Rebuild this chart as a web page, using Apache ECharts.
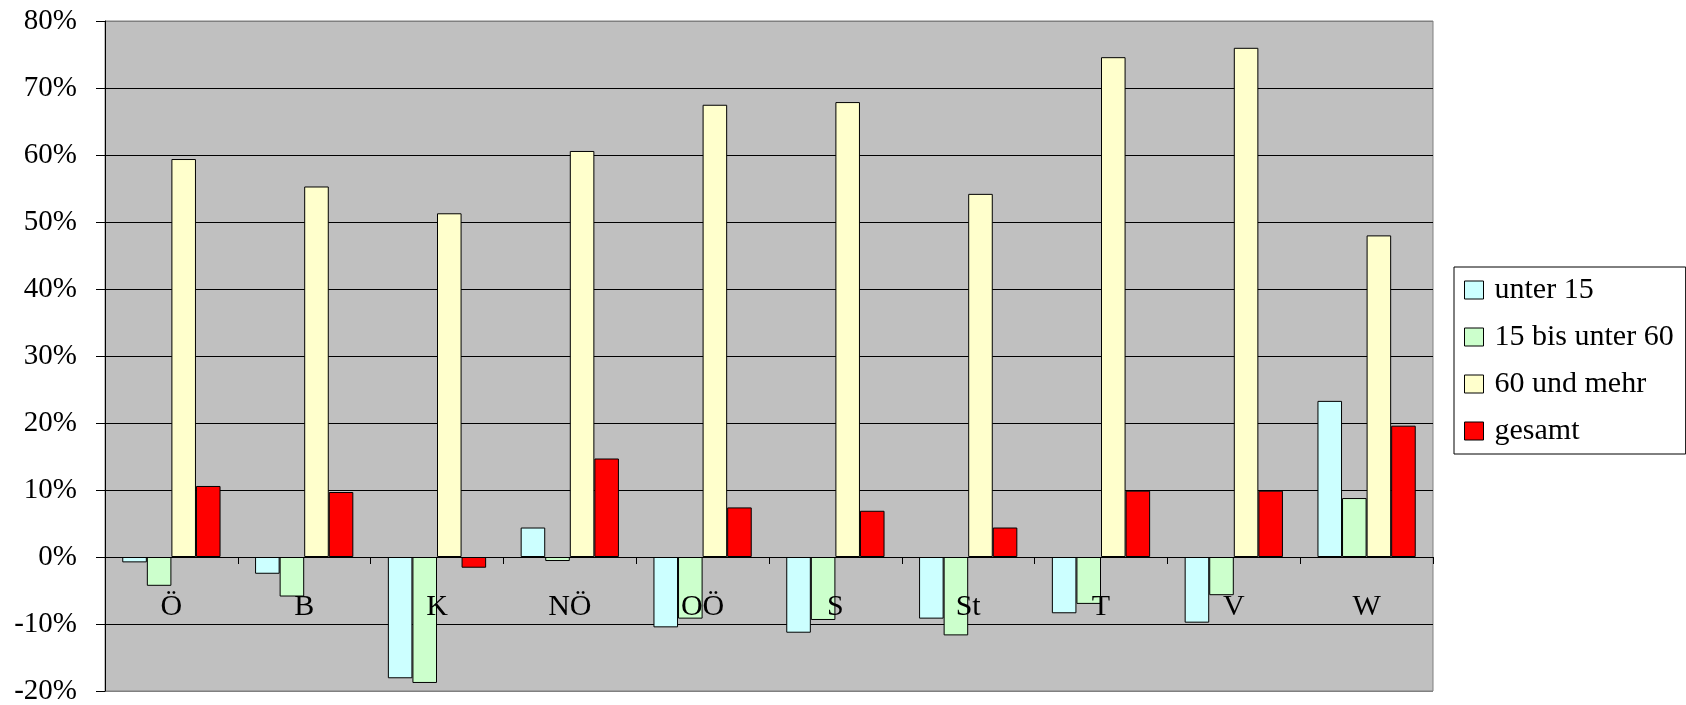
<!DOCTYPE html>
<html>
<head>
<meta charset="utf-8">
<script src="https://cdn.jsdelivr.net/npm/echarts@6/dist/echarts.min.js"></script>
<style>
html,body{margin:0;padding:0;background:#fff;}
#chart{width:1686px;height:705px;}
</style>
</head>
<body>
<div id="chart"></div>
<script>
var categories = ['Ö', 'B', 'K', 'NÖ', 'OÖ', 'S', 'St', 'T', 'V', 'W'];
var seriesNames = ['unter 15', '15 bis unter 60', '60 und mehr', 'gesamt'];
var unter15 = [-0.8, -2.5, -18.1, 4.4, -10.5, -11.3, -9.2, -8.4, -9.8, 23.3];
var bis60 = [-4.3, -5.9, -18.8, -0.6, -9.2, -9.4, -11.7, -7.0, -5.7, 8.8];
var ab60 = [59.4, 55.3, 51.3, 60.6, 67.5, 67.9, 54.2, 74.6, 76.0, 48.0];
var gesamt = [10.6, 9.7, -1.6, 14.7, 7.4, 6.9, 4.4, 9.9, 9.9, 19.6];
var colors = ['#CCFFFF', '#CCFFCC', '#FFFFCC', '#FF0000'];
var yMin = -20, yMax = 80, yStep = 10;

var font = '"Liberation Serif", "Times New Roman", serif';
var allData = [unter15, bis60, ab60, gesamt];
var splitColors = [];
for (var v = yMin; v <= yMax; v += yStep) {
  splitColors.push((v === yMin || v === yMax) ? '#808080' : '#000000');
}

var gridTop = 21, gridBottom = 14, H = 705;
var plotH = H - gridTop - gridBottom;
var zeroFromBottom = plotH * (0 - yMin) / (yMax - yMin);

var chart = echarts.init(document.getElementById('chart'));
chart.setOption({
  animation: false,
  grid: {
    left: 105, right: 253, top: gridTop, bottom: gridBottom,
    outerBoundsMode: 'none',
    show: true, backgroundColor: '#C0C0C0', borderColor: '#808080', borderWidth: 1
  },
  legend: {
    orient: 'vertical',
    left: 1454, top: 267,
    padding: [8, 12, 8, 10],
    itemGap: 17,
    itemWidth: 19, itemHeight: 18,
    borderColor: '#000', borderWidth: 1,
    backgroundColor: '#fff',
    textStyle: { fontFamily: font, fontSize: 30, color: '#000', padding: [0, 0, 0, 6] },
    data: seriesNames.map(function (n, i) {
      return { name: n, icon: 'rect', itemStyle: { color: colors[i], borderColor: '#000', borderWidth: 1 } };
    })
  },
  xAxis: [{
    type: 'category',
    data: categories,
    position: 'bottom',
    z: 5,
    axisLine: { show: false, onZero: false },
    axisTick: { show: false },
    axisLabel: { fontFamily: font, fontSize: 30, color: '#000', margin: -(zeroFromBottom - 35) },
    splitLine: { show: false }
  }, {
    type: 'category',
    data: categories,
    position: 'bottom',
    offset: -zeroFromBottom,
    z: 5,
    axisLine: { show: true, onZero: false, lineStyle: { color: '#000', width: 1 } },
    axisTick: { show: true, length: 7, lineStyle: { color: '#000' } },
    axisLabel: { show: false },
    splitLine: { show: false }
  }],
  yAxis: {
    type: 'value',
    min: yMin, max: yMax, interval: yStep,
    axisLine: { show: true, lineStyle: { color: '#000', width: 1 } },
    axisTick: { show: true, length: 9, lineStyle: { color: '#000' } },
    axisLabel: { fontFamily: font, fontSize: 29, color: '#000', margin: 28, formatter: '{value}%' },
    splitLine: { show: true, lineStyle: { color: splitColors, width: 1 } }
  },
  series: seriesNames.map(function (n, i) {
    return {
      name: n,
      type: 'bar',
      xAxisIndex: 0,
      data: allData[i],
      barGap: '0%',
      barCategoryGap: '26%',
      itemStyle: { color: colors[i], borderColor: '#000', borderWidth: 1 }
    };
  })
});
</script>
</body>
</html>
